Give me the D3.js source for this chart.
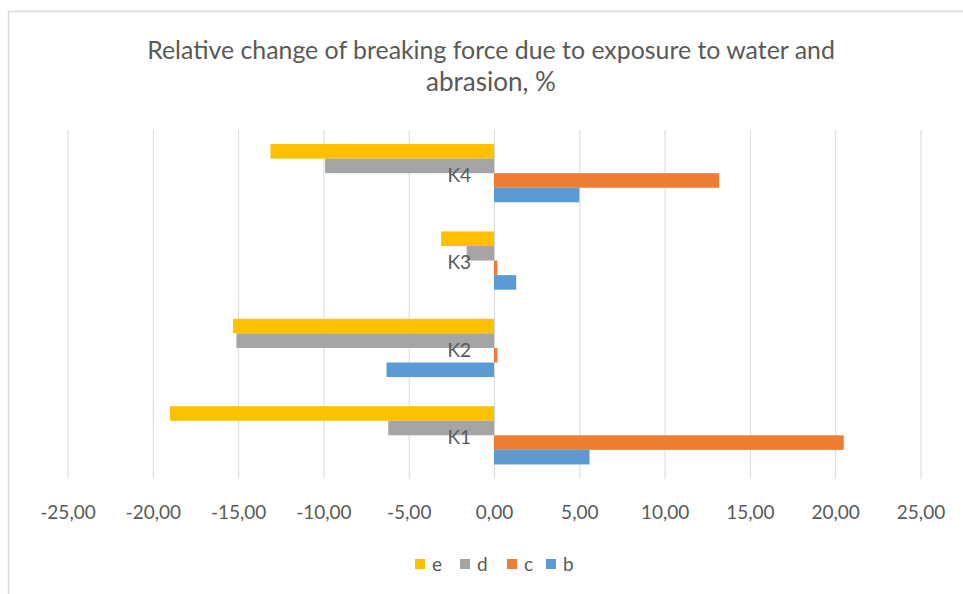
<!DOCTYPE html>
<html>
<head>
<meta charset="utf-8">
<script src="https://cdn.jsdelivr.net/npm/d3@7"></script>
<style>
  html, body { margin: 0; padding: 0; background: #fff; }
  svg { display: block; }
  text { font-family: Lato, "Open Sans", "Liberation Sans", Arial, sans-serif; fill: #595959; }
</style>
</head>
<body>
<svg id="chart" width="963" height="594"></svg>
<script>
const categories = ["K1", "K2", "K3", "K4"];
const seriesNames = ["e", "d", "c", "b"];
const seriesColors = ["#FFC000", "#A5A5A5", "#ED7D31", "#5B9BD5"];
const valuesE = [-19.0, -15.3, -3.1, -13.1];
const valuesD = [-6.2, -15.1, -1.6, -9.9];
const valuesC = [20.5, 0.2, 0.2, 13.2];
const valuesB = [5.6, -6.3, 1.3, 5.0];
const tickValues = [-25, -20, -15, -10, -5, 0, 5, 10, 15, 20, 25];
const titleLines = ["Relative change of breaking force due to exposure to water and", "abrasion, %"];

const seriesValues = { e: valuesE, d: valuesD, c: valuesC, b: valuesB };

const svg = d3.select("#chart");

// chart border
svg.append("rect")
  .attr("x", 8.5).attr("y", 11.5)
  .attr("width", 980).attr("height", 600)
  .attr("fill", "#fff").attr("stroke", "#D9D9D9").attr("stroke-width", 1.5);

const plot = { left: 67.5, right: 920.5, top: 129.5, bottom: 479 };

const x = d3.scaleLinear().domain([-25, 25]).range([plot.left, plot.right]);
const y = d3.scaleBand().domain(categories).range([plot.bottom, plot.top])
  .paddingInner(1 / 3).paddingOuter(1 / 6);
const ySub = d3.scaleBand().domain(seriesNames).range([0, y.bandwidth()]);
const color = d3.scaleOrdinal().domain(seriesNames).range(seriesColors);

const locale = d3.formatLocale({ decimal: ",", thousands: " ", grouping: [3], currency: ["", ""], minus: "-" });
const fmt = locale.format(".2f");

// title
const title = svg.append("g");
const titleWidths = [688, 130];
titleLines.forEach((t, i) => {
  const el = title.append("text")
    .attr("x", 491).attr("y", 59 + i * 32)
    .attr("text-anchor", "middle")
    .style("font-size", "23px")
    .text(t);
  const w = el.node().getComputedTextLength();
  if (Math.abs(w - titleWidths[i]) > 6) el.style("font-size", (23 * titleWidths[i] / w).toFixed(2) + "px");
});

// gridlines
const grid = svg.append("g")
  .attr("transform", `translate(0,${plot.bottom})`)
  .call(d3.axisBottom(x).tickValues(tickValues).tickSize(-(plot.bottom - plot.top)).tickFormat(""));
grid.select(".domain").remove();
grid.selectAll(".tick line").attr("stroke", "#D9D9D9").attr("stroke-width", 1);

// tick labels
const axis = svg.append("g")
  .attr("transform", `translate(0,${plot.bottom})`)
  .call(d3.axisBottom(x).tickValues(tickValues).tickSize(0).tickPadding(0).tickFormat(fmt));
axis.select(".domain").remove();
axis.selectAll(".tick text")
  .attr("y", 33).attr("dy", "0.35em")
  .style("font-size", "19px")
  .attr("fill", "#595959");

// bars
const groups = svg.append("g").selectAll("g")
  .data(categories)
  .join("g")
  .attr("transform", d => `translate(0,${y(d)})`);

groups.selectAll("rect")
  .data((cat, ci) => seriesNames.map(s => ({ s, v: seriesValues[s][ci] })))
  .join("rect")
  .attr("x", d => x(Math.min(0, d.v)))
  .attr("width", d => Math.abs(x(d.v) - x(0)))
  .attr("y", d => ySub(d.s))
  .attr("height", ySub.bandwidth())
  .attr("fill", d => color(d.s));

// category labels
svg.append("g").selectAll("text")
  .data(categories)
  .join("text")
  .attr("x", x(0) - 23)
  .attr("y", d => y(d) + y.bandwidth() / 2 + 2)
  .attr("dy", "0.35em")
  .attr("text-anchor", "end")
  .style("font-size", "19px")
  .text(d => d);

// legend
const legendX = [415, 460, 507, 546];
const legend = svg.append("g").selectAll("g")
  .data(seriesNames)
  .join("g")
  .attr("transform", (d, i) => `translate(${legendX[i]},559)`);
legend.append("rect").attr("width", 10).attr("height", 10).attr("fill", d => color(d));
legend.append("text").attr("x", 17).attr("y", 5).attr("dy", "0.35em")
  .style("font-size", "19px").text(d => d);
</script>
</body>
</html>
